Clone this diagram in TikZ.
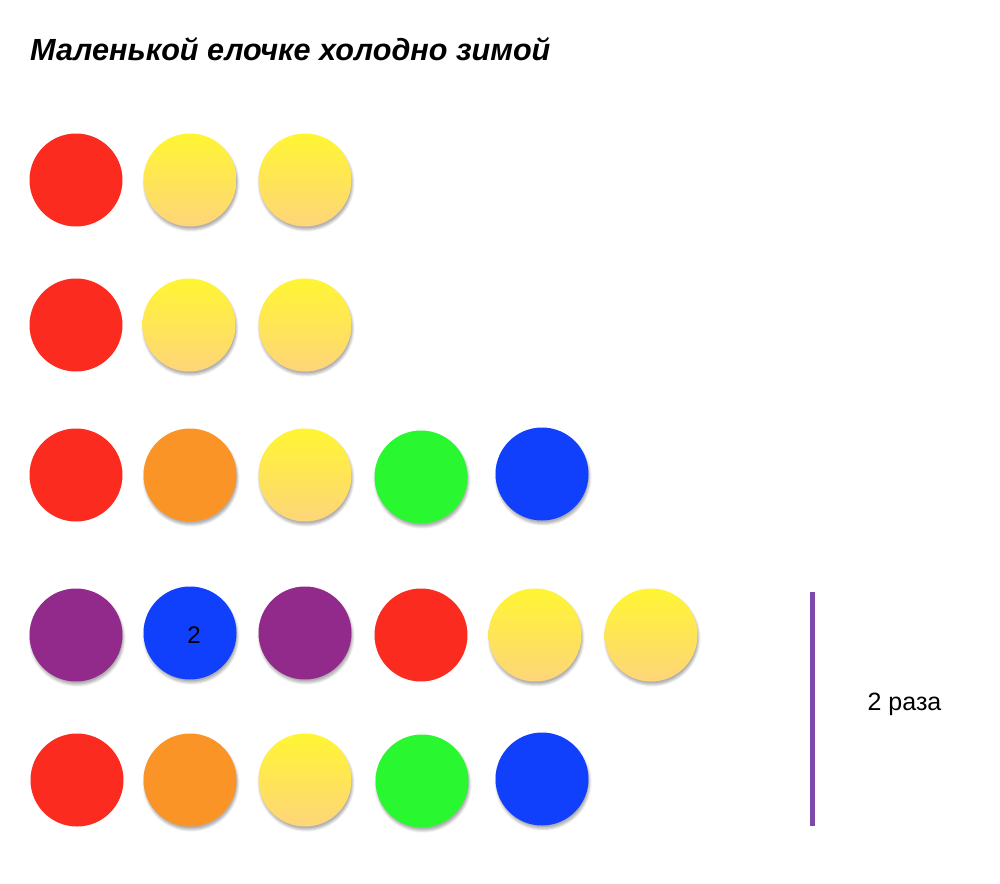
\documentclass[tikz,border=0pt]{standalone}
\usepackage{fontspec}
\setmainfont{Liberation Sans}
\usetikzlibrary{shadows}
\definecolor{cred}{HTML}{FC2B20}
\definecolor{corange}{HTML}{FB9427}
\definecolor{cgreen}{HTML}{29F830}
\definecolor{cblue}{HTML}{1040FC}
\definecolor{cpurple}{HTML}{922A8C}
\definecolor{ylwtop}{HTML}{FFF533}
\definecolor{ylwbot}{HTML}{FED57A}
\definecolor{linepurple}{HTML}{7E48A8}
\tikzset{
  ball/.style={circle, minimum size=93pt, inner sep=0pt, draw=none},
  shad/.style={
    general shadow={shadow xshift=1pt, shadow yshift=-3pt, shadow scale=1.045, fill=black, opacity=0.05},
    general shadow={shadow xshift=1pt, shadow yshift=-3pt, shadow scale=1.025, fill=black, opacity=0.07},
    general shadow={shadow xshift=1pt, shadow yshift=-3pt, shadow scale=1.005, fill=black, opacity=0.09},
    general shadow={shadow xshift=1pt, shadow yshift=-2.5pt, shadow scale=0.985, fill=black, opacity=0.12}},
  red/.style={ball, fill=cred},
  orange/.style={ball, shad, fill=corange},
  green/.style={ball, shad, fill=cgreen},
  blue/.style={ball, shad, fill=cblue},
  purple/.style={ball, shad, fill=cpurple},
  yellow/.style={ball, shad, top color=ylwtop, bottom color=ylwbot},
}
\begin{document}
\begin{tikzpicture}[x=1pt,y=-1pt]
\useasboundingbox[fill=white] (0,0) rectangle (1000,883);
\node[anchor=base west, inner sep=0pt, font=\fontsize{30.6}{36}\selectfont\bfseries\itshape] (title) at (30,60) {Маленькой елочке холодно зимой};
% row 1
\node[red] (a1) at (76,180) {};
\node[yellow] (a2) at (190,180) {};
\node[yellow] (a3) at (305,180) {};
% row 2
\node[red] (b1) at (76,325) {};
\node[yellow] (b2) at (189,325) {};
\node[yellow] (b3) at (305,325) {};
% row 3
\node[red] (c1) at (76,475) {};
\node[orange] (c2) at (190,475) {};
\node[yellow] (c3) at (305,475) {};
\node[green] (c4) at (421,477) {};
\node[blue] (c5) at (542,474) {};
% row 4
\node[purple] (d1) at (76,635) {};
\node[blue] (d2) at (190,633) {};
\node[font=\fontsize{24}{28}\selectfont] (two) at (194,635) {2};
\node[purple] (d3) at (305,633) {};
\node[red] (d4) at (421,635) {};
\node[yellow] (d5) at (535,635) {};
\node[yellow] (d6) at (651,635) {};
% row 5
\node[red] (e1) at (77,780) {};
\node[orange] (e2) at (190,780) {};
\node[yellow] (e3) at (305,780) {};
\node[green] (e4) at (422,781) {};
\node[blue] (e5) at (542,779) {};
% bracket line
\coordinate (ltop) at (812.5,592);
\coordinate (lbot) at (812.5,826);
\draw[linepurple, line width=4.5pt] (ltop) -- (lbot);
\node[anchor=base, inner sep=0pt, font=\fontsize{25}{30}\selectfont] (times) at (904.5,710) {2 раза};
\end{tikzpicture}
\end{document}
